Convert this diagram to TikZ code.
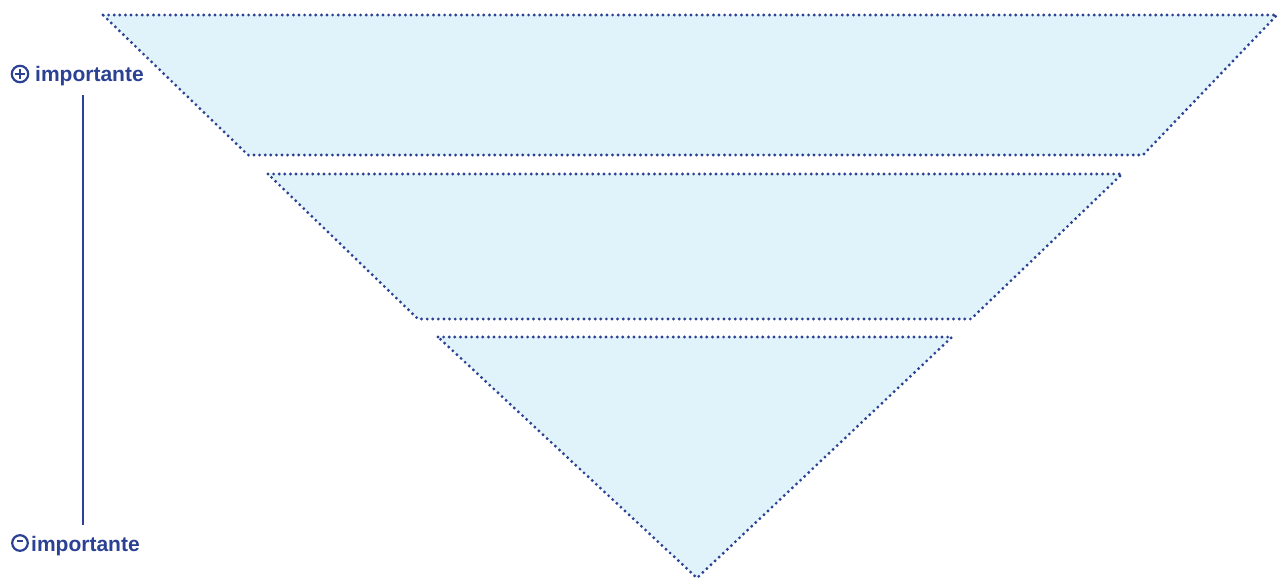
\documentclass[tikz,border=0pt]{standalone}
\usepackage{fontspec}
\setmainfont{Liberation Sans}
\definecolor{navy}{HTML}{2B4193}
\definecolor{paleblue}{HTML}{E0F3FA}
\tikzset{
  level/.style={fill=paleblue, draw=navy, line width=3.2pt, line cap=round, dash pattern=on 0pt off 5.6pt},
  lbl/.style={text=navy, font=\bfseries\fontsize{21}{24}\selectfont, inner sep=0pt, anchor=base west},
  sym/.style={draw=navy, line width=2.2pt}
}
\begin{document}
\begin{tikzpicture}[x=1pt,y=-1pt]
\useasboundingbox (0,0) rectangle (1281,581);
% levels
\draw[level] (103,15) -- (1277,15) -- (1143,155) -- (248,155) -- cycle;
\draw[level] (268,174) -- (1122,174) -- (971,319) -- (418,319) -- cycle;
\draw[level] (438,337) -- (952,337) -- (697,578) -- cycle;
% axis
\coordinate (atop) at (83,95);
\coordinate (abot) at (83,525);
\draw[navy, line width=2.4pt] (atop) -- (abot);
% plus label
\draw[sym] (20,74) circle (8.2);
\draw[sym] (15,74) -- (25,74) (20,69) -- (20,79);
\node[lbl] (hi) at (35,81) {importante};
% minus label
\draw[sym] (20,543) circle (7.8);
\draw[sym] (17,541) -- (23,541);
\node[lbl] (lo) at (31,551) {importante};
\end{tikzpicture}
\end{document}
